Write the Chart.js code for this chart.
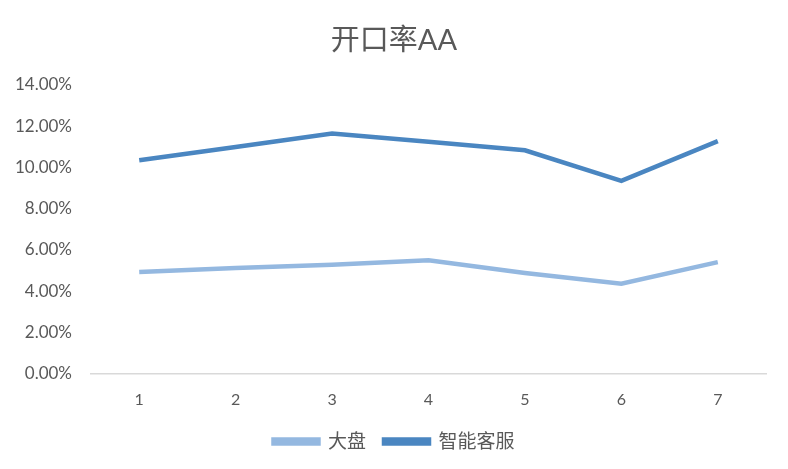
<!DOCTYPE html>
<html>
<head>
<meta charset="utf-8">
<script src="https://cdn.jsdelivr.net/npm/chart.js@4"></script>
<style>
  html, body { margin: 0; padding: 0; background: #fff; }
  #wrap { width: 788px; height: 469px; }
</style>
</head>
<body>
<div id="wrap"><canvas id="openRateChart"></canvas></div>
<script>
const categories = ['1', '2', '3', '4', '5', '6', '7'];
const marketValues = [0.0493, 0.0512, 0.0528, 0.0550, 0.0488, 0.0436, 0.0541];
const smartServiceValues = [0.1034, 0.1099, 0.1164, 0.1124, 0.1083, 0.0935, 0.1127];
const yTicks = [0, 0.02, 0.04, 0.06, 0.08, 0.10, 0.12, 0.14];

const fontFamily = "Lato, 'Noto Sans CJK SC', sans-serif";
const textColor = '#595959';

const openRateChart = new Chart(document.getElementById('openRateChart'), {
  type: 'line',
  data: {
    labels: categories,
    datasets: [{
      label: '大盘',
      data: marketValues,
      borderColor: '#94B8E0',
      backgroundColor: '#94B8E0',
      borderWidth: 4.5,
      pointRadius: 0,
      fill: false,
      tension: 0
    }, {
      label: '智能客服',
      data: smartServiceValues,
      borderColor: '#4A86C1',
      backgroundColor: '#4A86C1',
      borderWidth: 4.5,
      pointRadius: 0,
      fill: false,
      tension: 0
    }]
  },
  options: {
    responsive: true,
    maintainAspectRatio: false,
    animation: false,
    layout: { padding: { left: 0, right: 0, top: 8, bottom: 8 } },
    scales: {
      y: {
        min: 0,
        max: 0.14,
        afterBuildTicks: axis => { axis.ticks = yTicks.map(v => ({ value: v })); },
        afterFit: axis => { axis.width = 91; },
        grid: { display: false },
        border: { display: false },
        ticks: {
          color: textColor,
          font: { family: fontFamily, size: 17 },
          padding: 11,
          callback: v => (v * 100).toFixed(2) + '%'
        }
      },
      // empty right-hand axis only keeps the plot clear of the right edge
      yRight: {
        position: 'right',
        min: 0,
        max: 0.14,
        afterFit: axis => { axis.width = 22; },
        grid: { display: false },
        border: { display: false },
        ticks: { display: false }
      },
      x: {
        offset: true,
        afterFit: axis => { axis.height = axis.height - 11; },
        grid: { display: false, drawTicks: false },
        border: { display: true, color: '#D9D9D9', width: 1.5 },
        ticks: {
          color: textColor,
          font: { family: fontFamily, size: 16 },
          padding: 16
        }
      }
    },
    plugins: {
      legend: {
        position: 'bottom',
        labels: {
          color: textColor,
          font: { family: fontFamily, size: 19 },
          boxWidth: 45,
          boxHeight: 4,
          padding: 18
        }
      },
      title: {
        display: true,
        text: '开口率AA',
        color: textColor,
        font: { family: fontFamily, size: 29, weight: 'normal' },
        padding: { top: 15, bottom: 27 }
      },
      tooltip: { enabled: false }
    }
  }
});
</script>
</body>
</html>
